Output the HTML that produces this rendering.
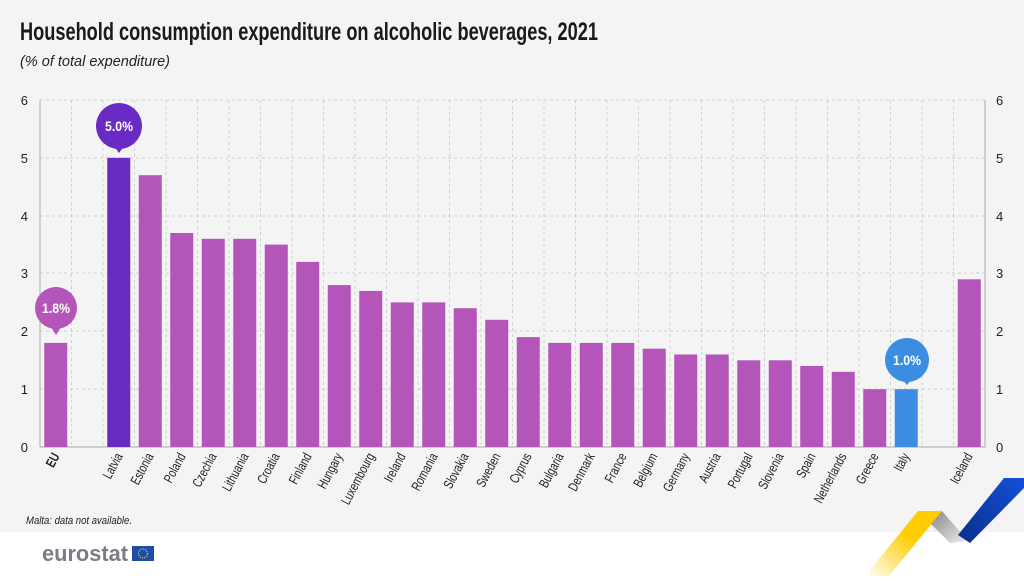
<!DOCTYPE html>
<html><head><meta charset="utf-8"><style>
body{margin:0;width:1024px;height:576px;overflow:hidden;background:#fff;font-family:"Liberation Sans",sans-serif}
</style></head><body>
<svg width="1024" height="576" xmlns="http://www.w3.org/2000/svg" font-family="'Liberation Sans Narrow','Liberation Sans',sans-serif">
<rect x="0" y="0" width="1024" height="532" fill="#f4f4f4"/>
<text x="20" y="40" font-size="25" font-weight="bold" fill="#1a1a1a" textLength="578" lengthAdjust="spacingAndGlyphs">Household consumption expenditure on alcoholic beverages, 2021</text>
<text x="20" y="66" font-size="15" font-style="italic" fill="#222" textLength="150" lengthAdjust="spacingAndGlyphs">(% of total expenditure)</text>
<g stroke="#d0d0d0" stroke-dasharray="3,3" stroke-width="1">
<line x1="40" x2="985" y1="100" y2="100"/><line x1="40" x2="985" y1="158" y2="158"/><line x1="40" x2="985" y1="216" y2="216"/><line x1="40" x2="985" y1="273" y2="273"/><line x1="40" x2="985" y1="331" y2="331"/><line x1="40" x2="985" y1="389" y2="389"/>
<line x1="71.5" x2="71.5" y1="100" y2="447"/><line x1="103" x2="103" y1="100" y2="447"/><line x1="134.5" x2="134.5" y1="100" y2="447"/><line x1="166" x2="166" y1="100" y2="447"/><line x1="197.5" x2="197.5" y1="100" y2="447"/><line x1="229" x2="229" y1="100" y2="447"/><line x1="260.5" x2="260.5" y1="100" y2="447"/><line x1="292" x2="292" y1="100" y2="447"/><line x1="323.5" x2="323.5" y1="100" y2="447"/><line x1="355" x2="355" y1="100" y2="447"/><line x1="386.5" x2="386.5" y1="100" y2="447"/><line x1="418" x2="418" y1="100" y2="447"/><line x1="449.5" x2="449.5" y1="100" y2="447"/><line x1="481" x2="481" y1="100" y2="447"/><line x1="512.5" x2="512.5" y1="100" y2="447"/><line x1="544" x2="544" y1="100" y2="447"/><line x1="575.5" x2="575.5" y1="100" y2="447"/><line x1="607" x2="607" y1="100" y2="447"/><line x1="638.5" x2="638.5" y1="100" y2="447"/><line x1="670" x2="670" y1="100" y2="447"/><line x1="701.5" x2="701.5" y1="100" y2="447"/><line x1="733" x2="733" y1="100" y2="447"/><line x1="764.5" x2="764.5" y1="100" y2="447"/><line x1="796" x2="796" y1="100" y2="447"/><line x1="827.5" x2="827.5" y1="100" y2="447"/><line x1="859" x2="859" y1="100" y2="447"/><line x1="890.5" x2="890.5" y1="100" y2="447"/><line x1="922" x2="922" y1="100" y2="447"/><line x1="953.5" x2="953.5" y1="100" y2="447"/>
</g>
<line x1="40" x2="40" y1="100" y2="447" stroke="#aaa"/><line x1="985" x2="985" y1="100" y2="447" stroke="#aaa"/><line x1="40" x2="985" y1="447" y2="447" stroke="#aaa"/>
<g font-size="13" fill="#222">
<text x="28" y="105" text-anchor="end">6</text><text x="28" y="163" text-anchor="end">5</text><text x="28" y="221" text-anchor="end">4</text><text x="28" y="278" text-anchor="end">3</text><text x="28" y="336" text-anchor="end">2</text><text x="28" y="394" text-anchor="end">1</text><text x="28" y="452" text-anchor="end">0</text>
<text x="996" y="105">6</text><text x="996" y="163">5</text><text x="996" y="221">4</text><text x="996" y="278">3</text><text x="996" y="336">2</text><text x="996" y="394">1</text><text x="996" y="452">0</text>
</g>
<g fill="#b455b9">
<rect x="44.25" y="342.9" width="23" height="104.1"/>
<rect x="138.75" y="175.2" width="23" height="271.8"/>
<rect x="170.25" y="233" width="23" height="214"/>
<rect x="201.75" y="238.8" width="23" height="208.2"/>
<rect x="233.25" y="238.8" width="23" height="208.2"/>
<rect x="264.75" y="244.6" width="23" height="202.4"/>
<rect x="296.25" y="261.9" width="23" height="185.1"/>
<rect x="327.75" y="285.1" width="23" height="161.9"/>
<rect x="359.25" y="290.9" width="23" height="156.1"/>
<rect x="390.75" y="302.4" width="23" height="144.6"/>
<rect x="422.25" y="302.4" width="23" height="144.6"/>
<rect x="453.75" y="308.2" width="23" height="138.8"/>
<rect x="485.25" y="319.8" width="23" height="127.2"/>
<rect x="516.75" y="337.1" width="23" height="109.9"/>
<rect x="548.25" y="342.9" width="23" height="104.1"/>
<rect x="579.75" y="342.9" width="23" height="104.1"/>
<rect x="611.25" y="342.9" width="23" height="104.1"/>
<rect x="642.75" y="348.7" width="23" height="98.3"/>
<rect x="674.25" y="354.5" width="23" height="92.5"/>
<rect x="705.75" y="354.5" width="23" height="92.5"/>
<rect x="737.25" y="360.3" width="23" height="86.7"/>
<rect x="768.75" y="360.3" width="23" height="86.7"/>
<rect x="800.25" y="366" width="23" height="81"/>
<rect x="831.75" y="371.8" width="23" height="75.2"/>
<rect x="863.25" y="389.2" width="23" height="57.8"/>
<rect x="957.75" y="279.3" width="23" height="167.7"/>
</g>
<rect x="107.25" y="157.8" width="23" height="289.2" fill="#6a2bc4"/>
<rect x="894.75" y="389.2" width="23" height="57.8" fill="#3a8de0"/>
<g font-size="14" fill="#fff" text-anchor="middle" font-weight="bold">
<circle cx="56" cy="308" r="21" fill="#b455b9"/><path d="M51 327 L56 335 L61 327Z" fill="#b455b9"/><text x="56" y="313" textLength="28" lengthAdjust="spacingAndGlyphs">1.8%</text>
<circle cx="119" cy="126" r="23" fill="#6a2bc4"/><path d="M114 146 L119 153 L124 146Z" fill="#6a2bc4"/><text x="119" y="131" textLength="28" lengthAdjust="spacingAndGlyphs">5.0%</text>
<circle cx="907" cy="360" r="22" fill="#3a8de0"/><path d="M902 379 L907 385 L912 379Z" fill="#3a8de0"/><text x="907" y="365" textLength="28" lengthAdjust="spacingAndGlyphs">1.0%</text>
</g>
<g font-size="13.5" fill="#222" text-anchor="end">
<text transform="translate(60,456) rotate(-62) scale(0.75,1)" font-weight="bold">EU</text>
<text transform="translate(123,456) rotate(-62) scale(0.75,1)">Latvia</text>
<text transform="translate(154,456) rotate(-62) scale(0.75,1)">Estonia</text>
<text transform="translate(186,456) rotate(-62) scale(0.75,1)">Poland</text>
<text transform="translate(217,456) rotate(-62) scale(0.75,1)">Czechia</text>
<text transform="translate(249,456) rotate(-62) scale(0.75,1)">Lithuania</text>
<text transform="translate(280,456) rotate(-62) scale(0.75,1)">Croatia</text>
<text transform="translate(312,456) rotate(-62) scale(0.75,1)">Finland</text>
<text transform="translate(343,456) rotate(-62) scale(0.75,1)">Hungary</text>
<text transform="translate(375,456) rotate(-62) scale(0.75,1)">Luxembourg</text>
<text transform="translate(406,456) rotate(-62) scale(0.75,1)">Ireland</text>
<text transform="translate(438,456) rotate(-62) scale(0.75,1)">Romania</text>
<text transform="translate(469,456) rotate(-62) scale(0.75,1)">Slovakia</text>
<text transform="translate(501,456) rotate(-62) scale(0.75,1)">Sweden</text>
<text transform="translate(532,456) rotate(-62) scale(0.75,1)">Cyprus</text>
<text transform="translate(564,456) rotate(-62) scale(0.75,1)">Bulgaria</text>
<text transform="translate(595,456) rotate(-62) scale(0.75,1)">Denmark</text>
<text transform="translate(627,456) rotate(-62) scale(0.75,1)">France</text>
<text transform="translate(658,456) rotate(-62) scale(0.75,1)">Belgium</text>
<text transform="translate(690,456) rotate(-62) scale(0.75,1)">Germany</text>
<text transform="translate(721,456) rotate(-62) scale(0.75,1)">Austria</text>
<text transform="translate(753,456) rotate(-62) scale(0.75,1)">Portugal</text>
<text transform="translate(784,456) rotate(-62) scale(0.75,1)">Slovenia</text>
<text transform="translate(816,456) rotate(-62) scale(0.75,1)">Spain</text>
<text transform="translate(847,456) rotate(-62) scale(0.75,1)">Netherlands</text>
<text transform="translate(879,456) rotate(-62) scale(0.75,1)">Greece</text>
<text transform="translate(910,456) rotate(-62) scale(0.75,1)">Italy</text>
<text transform="translate(973,456) rotate(-62) scale(0.75,1)">Iceland</text>
</g>
<text x="26" y="524" font-size="11" font-style="italic" fill="#222" textLength="106" lengthAdjust="spacingAndGlyphs">Malta: data not available.</text>
<text x="42" y="561" font-size="22" font-weight="bold" fill="#7a7d85" font-family="'Liberation Sans',sans-serif" textLength="86" lengthAdjust="spacingAndGlyphs">eurostat</text>
<rect x="132" y="546" width="22" height="15" fill="#1f4ea8"/>
<circle cx="143" cy="553.5" r="4.5" fill="none" stroke="#ffd200" stroke-width="1.3" stroke-dasharray="1,1.3"/>
<defs>
<linearGradient id="gy" x1="1" y1="0" x2="0" y2="1"><stop offset="0.4" stop-color="#ffcc00"/><stop offset="1" stop-color="#fff"/></linearGradient>
<linearGradient id="gg" x1="0" y1="0" x2="1" y2="1"><stop offset="0" stop-color="#888"/><stop offset="1" stop-color="#eee"/></linearGradient>
<linearGradient id="gb" x1="1" y1="0" x2="0" y2="1"><stop offset="0" stop-color="#1450d8"/><stop offset="1" stop-color="#0a2f8a"/></linearGradient>
</defs>
<polygon points="918,511 942,511 889,576 865,576" fill="url(#gy)"/>
<polygon points="942,511 968,541 950,543 931,524" fill="url(#gg)"/>
<polygon points="1004,478 1024,478 1024,488 970,543 958,535" fill="url(#gb)"/>
</svg>
</body></html>
